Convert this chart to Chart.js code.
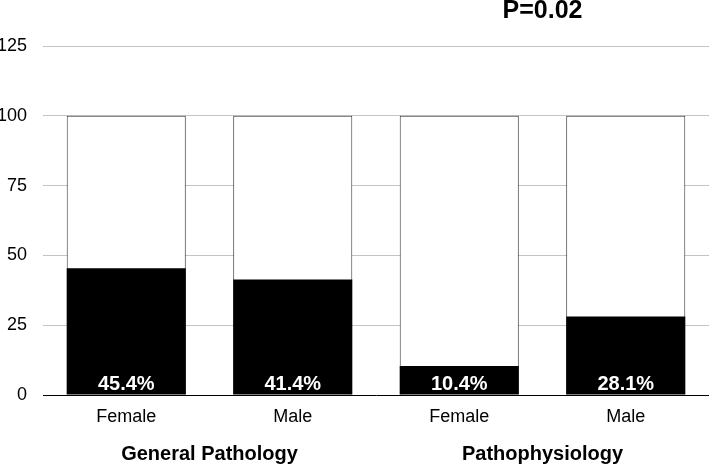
<!DOCTYPE html>
<html>
<head>
<meta charset="utf-8">
<script src="https://cdn.jsdelivr.net/npm/chart.js@4/dist/chart.umd.min.js"></script>
<style>
html,body{margin:0;padding:0;background:#fff;}
#wrap{width:709px;height:466px;}
</style>
</head>
<body>
<div id="wrap"><canvas id="c"></canvas></div>
<script>
const categories = ["Female", "Male", "Female", "Male"];
const groups = ["General Pathology", "Pathophysiology"];
const percentValues = [45.4, 41.4, 10.4, 28.1];
const totalValues = [100, 100, 100, 100];
const yTicks = [0, 25, 50, 75, 100, 125];
const pLabel = "P=0.02";

const FONT = "'Liberation Sans', Arial, Helvetica, sans-serif";

const overlayPlugin = {
  id: 'overlay',
  afterDatasetsDraw(chart) {
    const ctx = chart.ctx;
    const meta = chart.getDatasetMeta(0);
    const y = chart.scales.y;
    ctx.save();
    ctx.fillStyle = '#fff';
    ctx.font = "bold 20px " + FONT;
    ctx.textAlign = 'center';
    ctx.textBaseline = 'alphabetic';
    meta.data.forEach((bar, i) => {
      ctx.fillText(percentValues[i].toFixed(1) + '%', bar.x, y.getPixelForValue(0) - 5);
    });
    const x = chart.scales.x;
    const px = (x.getPixelForValue(2) + x.getPixelForValue(3)) / 2;
    ctx.fillStyle = '#000';
    ctx.font = "bold 25px " + FONT;
    ctx.textBaseline = 'middle';
    ctx.fillText(pLabel, px, 11);
    ctx.restore();
  }
};

new Chart(document.getElementById('c'), {
  type: 'bar',
  data: {
    labels: categories,
    datasets: [
      {
        label: 'percent',
        data: percentValues,
        backgroundColor: '#000',
        borderWidth: 0,
        order: 1
      },
      {
        label: 'total',
        data: totalValues,
        backgroundColor: '#fff',
        borderColor: '#333',
        borderWidth: 1,
        borderSkipped: 'bottom',
        order: 2
      }
    ]
  },
  options: {
    responsive: true,
    maintainAspectRatio: false,
    animation: false,
    devicePixelRatio: 1,
    layout: { padding: { top: 46, right: 0, left: 0, bottom: 0 } },
    datasets: { bar: { grouped: false, categoryPercentage: 1.0, barPercentage: 0.715 } },
    plugins: { legend: { display: false }, tooltip: { enabled: false }, title: { display: false } },
    scales: {
      x: {
        type: 'category',
        offset: true,
        grid: { display: false, drawTicks: false },
        border: { display: true, color: '#000', width: 1 },
        ticks: { color: '#000', font: { family: FONT, size: 18 }, padding: 11 },
        afterFit(axis) { axis.height = 31; }
      },
      x2: {
        type: 'category',
        position: 'bottom',
        labels: groups,
        offset: true,
        grid: { display: false, drawTicks: false },
        border: { display: false },
        ticks: { color: '#000', font: { family: FONT, size: 20, weight: 'bold' }, padding: 16 },
        afterFit(axis) { axis.height = 40; }
      },
      y: {
        min: 0,
        max: 125,
        afterBuildTicks(axis) { axis.ticks = yTicks.map(v => ({ value: v })); },
        afterFit(axis) { axis.width = 43; },
        grid: {
          color: (c) => (c.tick && c.tick.value === 0) ? 'rgba(0,0,0,0)' : '#c4c4c4',
          lineWidth: 1,
          drawTicks: false
        },
        border: { display: false },
        ticks: { color: '#000', font: { family: FONT, size: 18 }, padding: 16 }
      }
    }
  },
  plugins: [overlayPlugin]
});
</script>
</body>
</html>
